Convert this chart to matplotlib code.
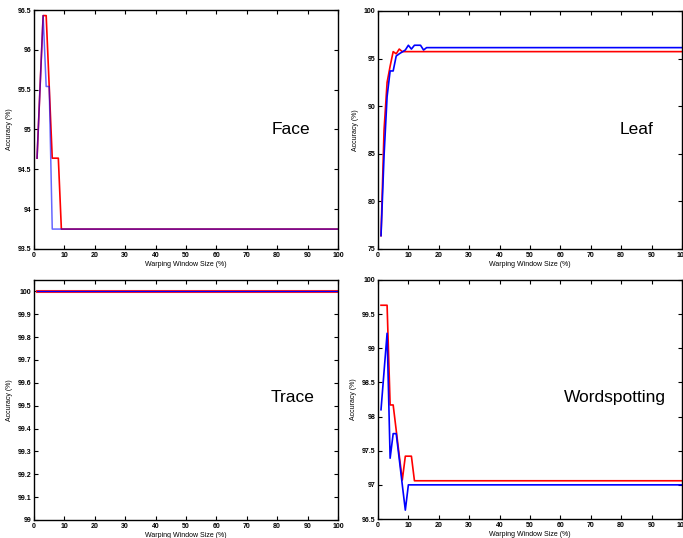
import numpy as np
import matplotlib
matplotlib.use('Agg')
import matplotlib.pyplot as plt

plt.rcParams['font.family'] = ['Liberation Sans', 'DejaVu Sans']

# 窗口大小 1..100 (%)
window = np.arange(1, 101)

# 各数据集前几个点（之后保持平稳）
face_red_head = [94.64, 95.54, 96.43, 96.43, 95.54, 94.64, 94.64, 94.64, 93.75]
face_red_tail = 93.75
face_blue_head = [94.64, 95.54, 96.43, 95.54, 95.54, 93.75]
face_blue_tail = 93.75

leaf_red_head = [76.4, 87.5, 92.5, 94.2, 95.73, 95.5, 96.0, 95.73]
leaf_red_tail = 95.73
leaf_blue_head = [76.4, 84.8, 91.0, 93.7, 93.7, 95.27, 95.5, 95.7, 95.9,
                  96.4, 96.0, 96.4, 96.4, 96.4, 95.9, 96.15]
leaf_blue_tail = 96.15

trace_red_head = [100.0]
trace_red_tail = 100.0
trace_blue_head = [100.0]
trace_blue_tail = 100.0

word_red_head = [99.63, 99.63, 99.63, 98.17, 98.17, 97.8, 97.43, 97.07,
                 97.42, 97.42, 97.42, 97.06]
word_red_tail = 97.06
word_blue_head = [98.10, 98.66, 99.22, 97.39, 97.75, 97.75, 97.38, 97.0,
                  96.63, 97.0]
word_blue_tail = 97.0


def series(head, tail):
    vals = np.full(len(window), tail, dtype=float)
    vals[:len(head)] = head
    return vals


panels = [
    # name, rect, red, blue, ylim, yticks, ticklabels, text pos
    ('Face', [0.0498, 0.5372, 0.445, 0.4442],
     series(face_red_head, face_red_tail), series(face_blue_head, face_blue_tail),
     (93.5, 96.5), np.arange(93.5, 96.51, 0.5),
     ['93.5', '94', '94.5', '95', '95.5', '96', '96.5'], (0.845, 0.50)),
    ('Leaf', [0.5534, 0.5372, 0.445, 0.4424],
     series(leaf_red_head, leaf_red_tail), series(leaf_blue_head, leaf_blue_tail),
     (75, 100), np.arange(75, 101, 5),
     ['75', '80', '85', '90', '95', '100'], (0.85, 0.50)),
    ('Trace', [0.0498, 0.0335, 0.445, 0.4461],
     series(trace_red_head, trace_red_tail), series(trace_blue_head, trace_blue_tail),
     (99, 100.05), np.arange(99, 100.01, 0.1),
     ['99', '99.1', '99.2', '99.3', '99.4', '99.5', '99.6', '99.7', '99.8', '99.9', '100'],
     (0.85, 0.51)),
    ('Wordspotting', [0.5534, 0.0353, 0.445, 0.4443],
     series(word_red_head, word_red_tail), series(word_blue_head, word_blue_tail),
     (96.5, 100), np.arange(96.5, 100.01, 0.5),
     ['96.5', '97', '97.5', '98', '98.5', '99', '99.5', '100'], (0.78, 0.51)),
]

fig = plt.figure(figsize=(6.83, 5.38), dpi=100)

for name, rect, red, blue, ylim, yticks, ylabels, tpos in panels:
    ax = fig.add_axes(rect)
    if name == 'Trace':
        ax.plot(window, red, color='#ff2020', lw=2.2)
        ax.plot(window, blue, color='#0000ff', lw=0.9)
    elif name == 'Face':
        ax.plot(window, red, color='#ff0000', lw=1.2)
        ax.plot(window, blue, color='#0000ff', lw=1.1, alpha=0.6)
    else:
        ax.plot(window, red, color='#ff0000', lw=1.2)
        ax.plot(window, blue, color='#0000ff', lw=1.2)
    ax.set_xlim(0, 100)
    ax.set_ylim(*ylim)
    ax.set_xticks(np.arange(0, 101, 10))
    ax.set_yticks(yticks)
    ax.set_yticklabels(ylabels)
    ax.tick_params(direction='in', top=True, right=True, length=3, width=0.8,
                   labelsize=5, pad=2)
    for lab in ax.get_xticklabels() + ax.get_yticklabels():
        lab.set_fontweight('bold')
    for sp in ax.spines.values():
        sp.set_linewidth(1.0)
    ax.set_xlabel('Warping Window Size (%)', fontsize=5, labelpad=1.5)
    ax.set_ylabel('Accuracy (%)', fontsize=5, labelpad=3)
    ax.text(tpos[0], tpos[1], name, transform=ax.transAxes, fontsize=12.5,
            ha='center', va='center')

fig.savefig('out.png', dpi=100)
